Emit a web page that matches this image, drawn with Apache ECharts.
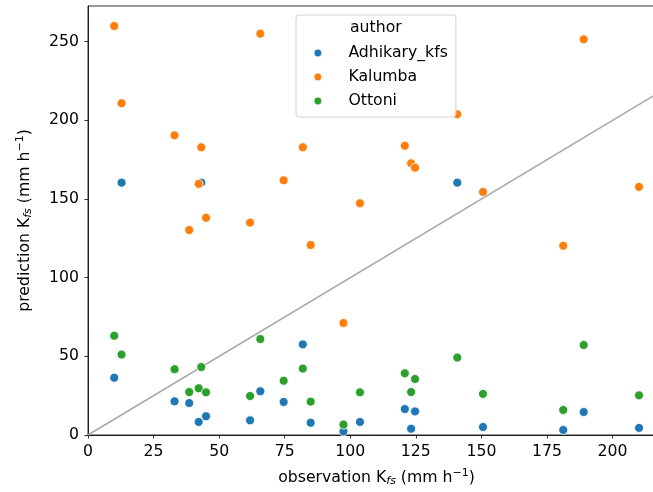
<!DOCTYPE html>
<html>
<head>
<meta charset="utf-8">
<script src="https://cdn.jsdelivr.net/npm/echarts@6/dist/echarts.min.js"></script>
<style>
  html, body { margin: 0; padding: 0; background: #fff; }
  #chart { width: 653px; height: 492px; }
</style>
</head>
<body>
<div id="chart"></div>
<script>
// Saturated hydraulic conductivity: observed vs. predicted (mm h-1)
const observation = [10, 12.8, 33, 38.6, 42.2, 43.2, 45, 61.8, 65.7, 74.6, 81.9,
  84.9, 97.4, 103.7, 120.8, 123.2, 124.7, 140.8, 150.6, 181.2, 189, 210.1];

const adhikaryKfs = [36.4, 160.4, 21.4, 20.3, 8.3, 160.4, 11.9, 9.3, 27.8, 21, 57.6,
  7.8, 2.3, 8.3, 16.5, 4.0, 15, 160.4, 5.1, 3.2, 14.6, 4.5];

const kalumba = [260, 210.9, 190.5, 130.3, 159.6, 182.9, 138.1, 135, 255.1, 161.9, 182.9,
  120.8, 71.2, 147.3, 183.9, 172.7, 169.9, 203.9, 154.5, 120.3, 251.5, 157.7];

const ottoni = [63.1, 51.1, 41.8, 27.3, 29.7, 43.2, 27.1, 24.8, 61, 34.5, 42.2,
  21.2, 6.6, 27.1, 39.2, 27.3, 35.6, 49.2, 26.1, 15.9, 57.2, 25.2];

const authors = ['Adhikary_kfs', 'Kalumba', 'Ottoni'];
const colors = ['#1f77b4', '#ff7f0e', '#2ca02c'];
const xTicks = [0, 25, 50, 75, 100, 125, 150, 175, 200];
const yTicks = [0, 50, 100, 150, 200, 250];
const identityLine = [0, 240];

const FONT = 'DejaVu Sans';
const FS = 15.7;
const pairs = (xs, ys) => xs.map((x, i) => [x, ys[i]]);

const axisRich = {
  sub: { fontFamily: FONT, fontSize: 11, fontStyle: 'italic', color: '#000', padding: [7, 0, 0, 0] },
  sup: { fontFamily: FONT, fontSize: 11, color: '#000', padding: [0, 0, 8, 0] }
};

const scatter = (name, ys, color) => ({
  name: name,
  type: 'scatter',
  data: pairs(observation, ys),
  symbol: 'circle',
  symbolSize: 9,
  itemStyle: { color: color, borderColor: '#fff', borderWidth: 0.8, opacity: 1 },
  emphasis: { disabled: true },
  z: 3
});

const chart = echarts.init(document.getElementById('chart'), null, { renderer: 'canvas' });
chart.setOption({
  animation: false,
  backgroundColor: '#fff',
  textStyle: { fontFamily: FONT },
  grid: {
    left: 88, top: 6, width: 577, height: 429,
    outerBoundsMode: 'none',
    containLabel: false,
    show: true, borderColor: '#000', borderWidth: 0.8, backgroundColor: 'transparent'
  },
  title: {
    text: 'author',
    left: 350, top: 19, padding: 0,
    textStyle: { fontFamily: FONT, fontSize: FS, fontWeight: 'normal', color: '#000', lineHeight: 18 },
    z: 10
  },
  legend: {
    data: authors,
    orient: 'vertical',
    left: 296, top: 15,
    padding: [29, 8, 7, 17.5],
    itemGap: 6,
    itemWidth: 8, itemHeight: 8,
    icon: 'circle',
    backgroundColor: 'rgba(255,255,255,0.8)',
    borderColor: '#d3d3d3', borderWidth: 1, borderRadius: 3,
    textStyle: { fontFamily: FONT, fontSize: FS, color: '#000', lineHeight: 18, padding: [0, 0, 0, 21.5] },
    itemStyle: { borderColor: '#fff', borderWidth: 0.8 },
    selectedMode: false,
    z: 9
  },
  xAxis: {
    type: 'value',
    min: 0, max: 220, interval: 25,
    name: 'observation K{sub|fs} (mm h{sup|−1})',
    nameLocation: 'middle',
    nameGap: 33,
    nameTextStyle: { fontFamily: FONT, fontSize: FS, color: '#000', rich: axisRich },
    axisLine: { show: true, onZero: false, lineStyle: { color: '#000', width: 0.8 } },
    axisTick: { show: true, length: 3.5, inside: false, customValues: xTicks, lineStyle: { color: '#000', width: 0.8 } },
    axisLabel: { customValues: xTicks, margin: 9, fontFamily: FONT, fontSize: FS, color: '#000' },
    splitLine: { show: false }
  },
  yAxis: {
    type: 'value',
    min: 0, max: 272.7, interval: 50,
    name: 'prediction K{sub|fs} (mm h{sup|−1})',
    nameLocation: 'middle',
    nameGap: 54,
    nameRotate: 90,
    nameTextStyle: { fontFamily: FONT, fontSize: FS, color: '#000', rich: axisRich },
    axisLine: { show: true, onZero: false, lineStyle: { color: '#000', width: 0.8 } },
    axisTick: { show: true, length: 3.5, inside: false, customValues: yTicks, lineStyle: { color: '#000', width: 0.8 } },
    axisLabel: { customValues: yTicks, margin: 9, fontFamily: FONT, fontSize: FS, color: '#000' },
    splitLine: { show: false }
  },
  series: [
    {
      name: '1:1',
      type: 'line',
      data: [[identityLine[0], identityLine[0]], [identityLine[1], identityLine[1]]],
      symbol: 'none',
      lineStyle: { color: '#a9a9a9', width: 1.5 },
      emphasis: { disabled: true },
      clip: true,
      z: 2
    },
    scatter(authors[0], adhikaryKfs, colors[0]),
    scatter(authors[1], kalumba, colors[1]),
    scatter(authors[2], ottoni, colors[2])
  ]
});
</script>
</body>
</html>
